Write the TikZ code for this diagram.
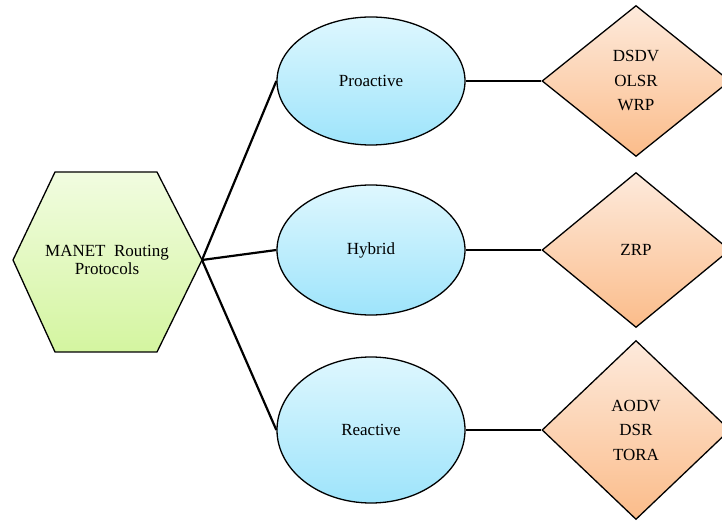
\documentclass[tikz,border=0pt]{standalone}
\usepackage{fontspec}
\setmainfont{Liberation Serif}
\usetikzlibrary{shapes.geometric}
\definecolor{hexTop}{RGB}{241,252,224}
\definecolor{hexBot}{RGB}{212,245,160}
\definecolor{ovTop}{RGB}{222,247,254}
\definecolor{ovBot}{RGB}{158,228,251}
\definecolor{dmTop}{RGB}{253,234,220}
\definecolor{dmBot}{RGB}{251,188,138}

\begin{document}
\begin{tikzpicture}[x=1pt,y=1pt,
  kind/.style={ellipse, draw, line width=1.3pt, top color=ovTop, bottom color=ovBot,
    minimum width=188pt, inner sep=0pt, font=\fontsize{17}{20}\selectfont},
  list/.style={diamond, draw, line width=1.3pt, top color=dmTop, bottom color=dmBot,
    minimum width=188pt, inner sep=0pt, align=center, font=\fontsize{17}{24.5}\selectfont},
  link/.style={line width=2.2pt}]
\useasboundingbox (0,0) rectangle (722,522);
\shadedraw[top color=hexTop, bottom color=hexBot, line width=1.3pt]
  (13,262) -- (55,350) -- (157,350) -- (202,262) -- (157,170) -- (55,170) -- cycle;
\coordinate (hexR) at (202,262);
\node[align=center, font=\fontsize{17}{17.5}\selectfont] (manet) at (107,262) {MANET\ \ Routing\\Protocols};
\node[kind, minimum height=128pt] (pro) at (371,441) {Proactive};
\node[kind, minimum height=130pt] (hyb) at (371,272) {Hybrid};
\node[kind, minimum height=146pt] (rea) at (371,92) {Reactive};
\node[list, minimum height=151pt] (lpro) at (636,441) {DSDV\\OLSR\\WRP};
\node[list, minimum height=155pt] (lhyb) at (636,272) {ZRP};
\node[list, minimum height=179pt] (lrea) at (636,92) {AODV\\DSR\\TORA};
\draw[link] (hexR) -- (pro.west);
\draw[link] (hexR) -- (hyb.west);
\draw[link] (hexR) -- (rea.west);
\draw[link] (pro.east) -- (lpro.west);
\draw[link] (hyb.east) -- (lhyb.west);
\draw[link] (rea.east) -- (lrea.west);
\end{tikzpicture}
\end{document}
